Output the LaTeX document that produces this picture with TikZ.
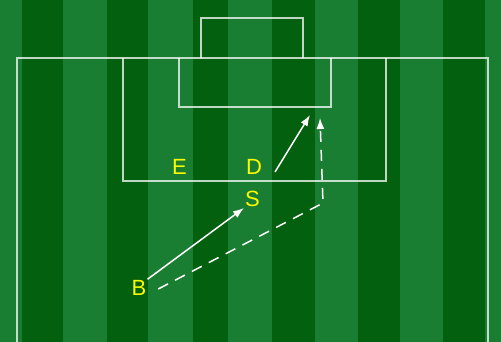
\documentclass[tikz,border=0pt]{standalone}
\usepackage{fontspec}
\setmainfont{Liberation Sans}
\usetikzlibrary{arrows.meta}
\definecolor{darkg}{RGB}{2,96,14}
\definecolor{lightg}{RGB}{26,126,50}
\definecolor{lab}{RGB}{250,250,0}
\begin{document}
\begin{tikzpicture}[x=1pt,y=-1pt,
  pitch/.style={draw=white, draw opacity=0.75, line width=2pt},
  lbl/.style={text=lab, font=\fontsize{22}{22}\selectfont, inner sep=1pt},
  arr/.style={draw=white, line width=1.5pt, -{Latex[length=11pt,width=8pt]}},
  dsh/.style={arr, dash pattern=on 11pt off 8pt}]
\useasboundingbox (0,0) rectangle (501,342);
% stripes
\foreach \a/\b/\c in {0/22/lightg,22/63/darkg,63/107/lightg,107/148/darkg,148/193/lightg,193/228/darkg,228/272/lightg,272/315/darkg,315/358/lightg,358/400/darkg,400/443/lightg,443/485/darkg,485/501/lightg}
  \fill[\c] (\a,0) rectangle (\b,342);
% pitch lines
\draw[pitch] (17,342) -- (17,58) -- (488,58) -- (488,342);
\draw[pitch] (123,58) -- (123,181) -- (386,181) -- (386,58);
\draw[pitch] (179,58) -- (179,107) -- (331,107) -- (331,58);
\draw[pitch] (201,58) -- (201,18) -- (303,18) -- (303,58);
% labels
\node[lbl] (E) at (179.5,166.5) {E};
\node[lbl] (D) at (254,166.5) {D};
\node[lbl] (S) at (252.5,199) {S};
\node[lbl] (B) at (139,288) {B};
% connector points
\coordinate (d0) at (275,172);
\coordinate (t1) at (310,115);
\coordinate (c1) at (323,203);
\coordinate (t2) at (320,118);
% arrows
\draw[arr] (B.north east) -- (S.south west);
\draw[arr] (d0) -- (t1);
\draw[dsh] ([xshift=10.7pt,yshift=-1pt]B.east) -- (c1) -- (t2);
\end{tikzpicture}
\end{document}
